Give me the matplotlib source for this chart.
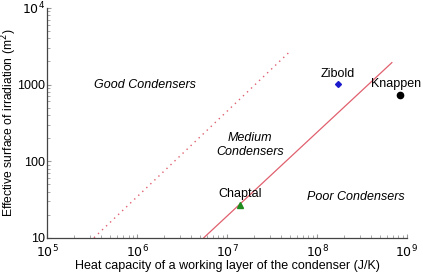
import numpy as np
import matplotlib
matplotlib.use("Agg")
import matplotlib.pyplot as plt
from matplotlib.ticker import FixedLocator, FixedFormatter, LogLocator, NullFormatter

plt.rcParams['font.family'] = ['Liberation Sans', 'DejaVu Sans']

# boundary lines (heat capacity J/K, surface m^2)
good_x = [3.3e5, 5.0e7]
good_y = [10, 2700]
poor_x = [5.5e6, 6.8e8]
poor_y = [10, 1930]

# condensers
names = ['Zibold', 'Knappen', 'Chaptal']
cap = [1.7e8, 8.3e8, 1.38e7]
surf = [1020, 740, 27]
markers = ['D', 'o', '^']
colors = ['#1a1acc', 'black', '#1e8c1e']
msizes = [3, 4.5, 4.5]

xticks = [1e5, 1e6, 1e7, 1e8, 1e9]
xlabels = ['$10^5$', '$10^6$', '$10^7$', '$10^8$', '$10^9$']
yticks = [10, 100, 1000, 1e4]
ylabels = ['10', '100', '1000', '$10^4$']

fig = plt.figure(figsize=(4.23, 2.72), dpi=100)
ax = fig.add_axes([0.112, 0.126, 0.85, 0.845])
ax.set_xscale('log')
ax.set_yscale('log')
ax.set_xlim(1e5, 1e9)
ax.set_ylim(10, 1e4)

red = '#e0606e'
ax.plot(good_x, good_y, color=red, lw=1, ls=(0, (1, 3)))
ax.plot(poor_x, poor_y, color=red, lw=0.9)

for n, x, y, m, c, s in zip(names, cap, surf, markers, colors, msizes):
    ax.plot(x, y, marker=m, color=c, ms=s, ls='none')

ax.text(1.7e8, 1380, 'Zibold', ha='center', va='center', fontsize=9)
ax.text(7.5e8, 1020, 'Knappen', ha='center', va='center', fontsize=9)
ax.text(1.41e7, 37, 'Chaptal', ha='center', va='center', fontsize=9)

ax.text(1.23e6, 1000, 'Good Condensers', ha='center', va='center', fontsize=9, style='italic')
ax.text(1.8e7, 163, 'Medium\nCondensers', ha='center', va='center', fontsize=9, style='italic')
ax.text(2.7e8, 34, 'Poor Condensers', ha='center', va='center', fontsize=9, style='italic')

ax.spines['top'].set_visible(False)
ax.spines['right'].set_visible(False)
for sp in ['left', 'bottom']:
    ax.spines[sp].set_color('#444444')
    ax.spines[sp].set_linewidth(0.9)

ax.xaxis.set_major_locator(FixedLocator(xticks))
ax.xaxis.set_major_formatter(FixedFormatter(xlabels))
ax.yaxis.set_major_locator(FixedLocator(yticks))
ax.yaxis.set_major_formatter(FixedFormatter(ylabels))
ax.xaxis.set_minor_locator(LogLocator(base=10, subs=np.arange(2, 10)))
ax.yaxis.set_minor_locator(LogLocator(base=10, subs=np.arange(2, 10)))
ax.xaxis.set_minor_formatter(NullFormatter())
ax.yaxis.set_minor_formatter(NullFormatter())
ax.tick_params(which='both', direction='in', color='#999999', labelsize=9)
ax.tick_params(axis='x', pad=4)
ax.tick_params(axis='y', pad=2)
ax.tick_params(which='major', length=3)
ax.tick_params(which='minor', length=2)

ax.set_xlabel('Heat capacity of a working layer of the condenser (J/K)', fontsize=9, labelpad=0)
ax.set_ylabel('Effective surface of irradiation (m$^2$)', fontsize=8.7)
ax.yaxis.set_label_coords(-0.08, 0.5)

fig.savefig('out.png', dpi=100)
